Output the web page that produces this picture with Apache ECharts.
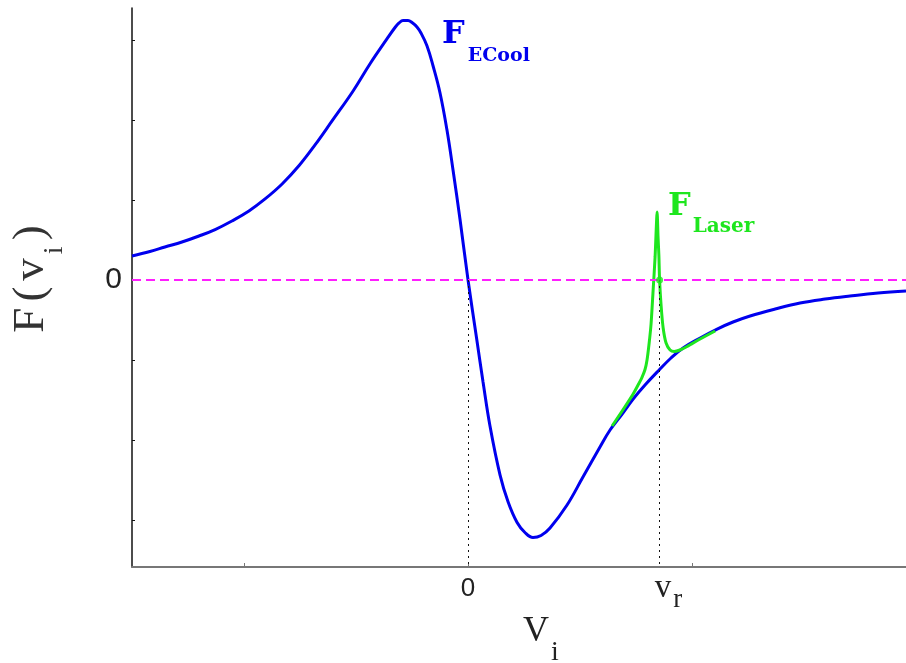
<!DOCTYPE html>
<html>
<head>
<meta charset="utf-8">
<script src="https://cdn.jsdelivr.net/npm/echarts@6/dist/echarts.min.js"></script>
<style>
  html, body { margin: 0; padding: 0; background: #ffffff; }
  #chart { width: 906px; height: 663px; }
</style>
</head>
<body>
<div id="chart"></div>
<script>
// Velocity axis: 0 is the cooler velocity, vr the laser resonance
const vr = 0.855;
const xRange = [-1.5, 1.955];
const yRange = [-3.5875, 3.4];

// Electron-cooling force F_ECool(v_i)
const coolV = [-1.500, -1.420, -1.353, -1.277, -1.201, -1.129, -1.054, -0.978, -0.906, -0.830,
  -0.754, -0.683, -0.607, -0.513, -0.438, -0.362, -0.326, -0.308, -0.290, -0.268,
  -0.250, -0.228, -0.210, -0.183, -0.156, -0.125, -0.094, -0.067, -0.036, 0,
  0.040, 0.067, 0.098, 0.143, 0.179, 0.219, 0.254, 0.290, 0.326, 0.366,
  0.442, 0.513, 0.589, 0.634, 0.688, 0.737, 0.790, 0.853, 0.906, 0.960,
  1.036, 1.112, 1.183, 1.259, 1.371, 1.482, 1.594, 1.705, 1.830, 1.955];
const coolF = [0.300, 0.356, 0.413, 0.475, 0.550, 0.631, 0.738, 0.863, 1.013, 1.200,
  1.431, 1.688, 1.988, 2.363, 2.700, 3.013, 3.156, 3.213, 3.244, 3.244,
  3.219, 3.163, 3.088, 2.925, 2.675, 2.338, 1.875, 1.375, 0.763, 0,
  -0.763, -1.275, -1.825, -2.438, -2.775, -3.031, -3.156, -3.219, -3.194, -3.100,
  -2.813, -2.463, -2.088, -1.875, -1.675, -1.488, -1.313, -1.125, -0.975, -0.850,
  -0.725, -0.613, -0.525, -0.450, -0.363, -0.288, -0.238, -0.200, -0.163, -0.138];

// Combined force with the laser resonance near vr
const laserV = [0.643, 0.688, 0.737, 0.759, 0.777, 0.790, 0.799, 0.808, 0.817, 0.826,
  0.835, 0.839, 0.844, 0.848, 0.852, 0.855, 0.862, 0.871, 0.884, 0.902,
  0.920, 0.946, 0.978, 1.036, 1.103];
const laserF = [-1.825, -1.638, -1.425, -1.313, -1.213, -1.119, -1.000, -0.800, -0.550, -0.138,
  0.288, 0.563, 0.850, 0.550, 0.300, 0, -0.325, -0.600, -0.788, -0.875,
  -0.894, -0.875, -0.831, -0.738, -0.638];

const yTicks = [-3, -2, -1, 0, 1, 2, 3];
const yLabels = [0];
const xTicks = [-1, 0, 1];
const xLabels = [0, vr];

const BLUE = '#0000ee';
const GREEN = '#1ee61e';
const MAGENTA = '#ff1eff';

const zip = (a, b) => a.map((v, i) => [v, b[i]]);

const chart = echarts.init(document.getElementById('chart'), null, { renderer: 'canvas' });

chart.setOption({
  animation: false,
  backgroundColor: '#ffffff',
  grid: { left: 132, right: 0, top: 8, bottom: 96, containLabel: false, outerBoundsMode: 'none' },
  xAxis: {
    type: 'value',
    min: xRange[0],
    max: xRange[1],
    splitLine: { show: false },
    axisLine: { onZero: false, lineStyle: { color: '#777777', width: 2 } },
    axisTick: { inside: true, length: 4, customValues: xTicks, lineStyle: { color: '#777777', width: 1 } },
    axisLabel: {
      customValues: xLabels,
      margin: 0,
      formatter: function (v) {
        return Math.abs(v) < 1e-9 ? '{n|0}' : '{v|v}{s|r}';
      },
      rich: {
        n: { fontFamily: 'Liberation Sans', fontSize: 26, color: '#222', padding: [9, 0, 0, 0] },
        v: { fontFamily: 'Liberation Serif', fontSize: 33, color: '#222', verticalAlign: 'bottom', padding: [5, 2, 8, 18] },
        s: { fontFamily: 'Liberation Serif', fontSize: 27, color: '#222', verticalAlign: 'bottom' }
      }
    },
    name: '{m|V}{s|i}',
    nameLocation: 'middle',
    nameGap: 47,
    nameMoveOverlap: false,
    nameTextStyle: {
      padding: [0, 0, 0, 44],
      rich: {
        m: { fontFamily: 'Liberation Serif', fontSize: 36, color: '#222', verticalAlign: 'bottom', padding: [0, 2, 17, 0] },
        s: { fontFamily: 'Liberation Serif', fontSize: 28, color: '#222', verticalAlign: 'bottom' }
      }
    }
  },
  yAxis: {
    type: 'value',
    min: yRange[0],
    max: yRange[1],
    splitLine: { show: false },
    axisLine: { onZero: false, lineStyle: { color: '#111111', width: 1.5 } },
    axisTick: { inside: true, length: 3, customValues: yTicks, lineStyle: { color: '#111111', width: 1 } },
    axisLabel: {
      customValues: yLabels,
      margin: 10,
      fontFamily: 'Liberation Sans',
      fontSize: 30,
      color: '#222'
    },
    name: '{m|F}{m|(}{m|v}{s|i}{m|)}',
    nameLocation: 'middle',
    nameRotate: 90,
    nameGap: 63,
    nameMoveOverlap: false,
    nameTextStyle: {
      padding: [0, 0, 0, 17],
      rich: {
        m: { fontFamily: 'Liberation Serif', fontSize: 45, color: '#333', verticalAlign: 'bottom', padding: [0, 3, 15, 3] },
        s: { fontFamily: 'Liberation Serif', fontSize: 28, color: '#333', verticalAlign: 'bottom', padding: [0, 3, 0, 1] }
      }
    }
  },
  series: [
    {
      name: 'guides',
      type: 'line',
      data: [],
      silent: true,
      z: 1,
      markLine: {
        silent: true,
        symbol: 'none',
        label: { show: false },
        animation: false,
        data: [
          { yAxis: 0, lineStyle: { color: MAGENTA, width: 1.8, type: [9, 5] } },
          [{ coord: [0, 0], lineStyle: { color: '#111', width: 1, type: [2, 4] } }, { coord: [0, yRange[0]] }],
          [{ coord: [vr, 0], lineStyle: { color: '#111', width: 1, type: [2, 4] } }, { coord: [vr, yRange[0]] }]
        ]
      }
    },
    {
      name: 'F_ECool',
      type: 'line',
      data: zip(coolV, coolF),
      smooth: 0.4,
      symbol: 'none',
      z: 3,
      lineStyle: { color: BLUE, width: 3 }
    },
    {
      name: 'F_Laser',
      type: 'line',
      data: zip(laserV, laserF),
      smooth: 0.25,
      symbol: 'none',
      z: 4,
      lineStyle: { color: GREEN, width: 3 }
    },
    {
      name: 'resonance',
      type: 'scatter',
      data: [[vr, 0]],
      symbolSize: 7,
      z: 5,
      itemStyle: { color: GREEN }
    }
  ],
  graphic: [
    {
      type: 'text',
      x: 442,
      y: 19,
      style: {
        text: '{m|F}{s|ECool}',
        verticalAlign: 'top',
        rich: {
          m: { fontFamily: 'DejaVu Serif', fontWeight: 'bold', fontSize: 32, fill: BLUE, verticalAlign: 'bottom', padding: [0, 3, 15, 0] },
          s: { fontFamily: 'DejaVu Serif', fontWeight: 'bold', fontSize: 19, fill: BLUE, verticalAlign: 'bottom' }
        }
      }
    },
    {
      type: 'text',
      x: 668,
      y: 191,
      style: {
        text: '{m|F}{s|Laser}',
        verticalAlign: 'top',
        rich: {
          m: { fontFamily: 'DejaVu Serif', fontWeight: 'bold', fontSize: 32, fill: GREEN, verticalAlign: 'bottom', padding: [0, 2, 14, 0] },
          s: { fontFamily: 'DejaVu Serif', fontWeight: 'bold', fontSize: 20, fill: GREEN, verticalAlign: 'bottom' }
        }
      }
    }
  ]
});
</script>
</body>
</html>
